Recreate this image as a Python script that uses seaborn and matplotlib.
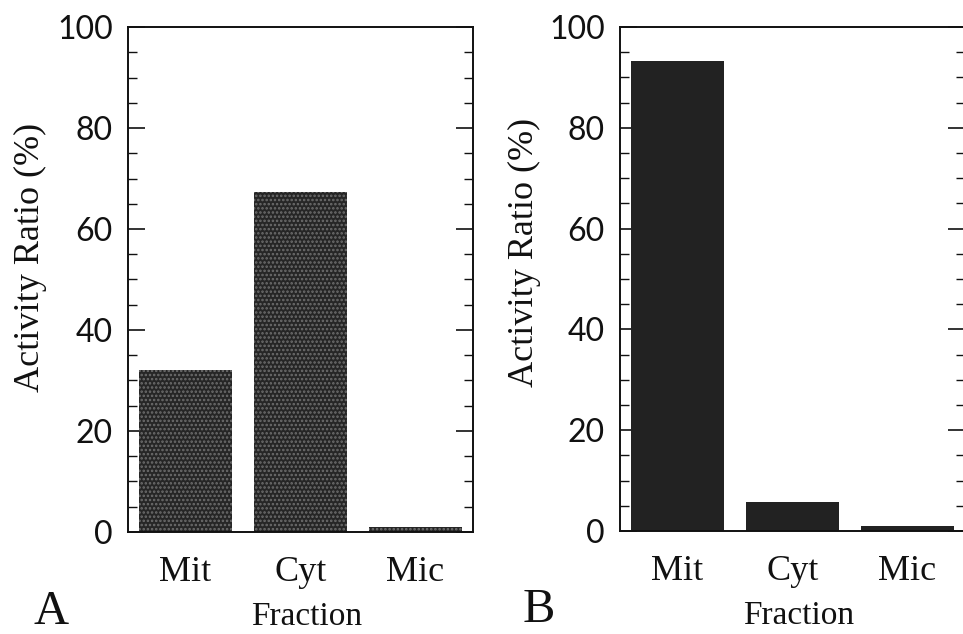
import matplotlib
matplotlib.use("Agg")
import matplotlib.pyplot as plt
import seaborn as sns
from matplotlib.ticker import MultipleLocator

# data
fractions = ["Mit", "Cyt", "Mic"]
ratio_a = [32.1, 67.4, 1.0]
ratio_b = [93.2, 5.8, 1.0]
panel_labels = ["A", "B"]

sns.set_theme(style="white")
plt.rcParams["font.family"] = ["Liberation Serif", "DejaVu Serif"]
plt.rcParams["hatch.linewidth"] = 1.2

fig = plt.figure(figsize=(9.63, 6.34), dpi=100)
ax_a = fig.add_axes([0.1329, 0.1609, 0.3583, 0.7965])
ax_b = fig.add_axes([0.6438, 0.1625, 0.3583, 0.7949])


def draw_panel(ax, values, face, hatch=None):
    sns.barplot(x=fractions, y=values, color=face, width=0.81,
                saturation=1, ax=ax)
    for p in ax.patches:
        p.set_linewidth(0)
        if hatch:
            p.set_hatch(hatch)
            p.set_edgecolor("#6e6e6e")
    ax.set_xlim(-0.5, 2.5)
    ax.set_ylim(0, 100)
    ax.yaxis.set_major_locator(MultipleLocator(20))
    ax.yaxis.set_minor_locator(MultipleLocator(5))
    ax.tick_params(axis="y", which="both", direction="in", left=True, right=True,
                   color="#111111")
    ax.tick_params(axis="y", which="major", length=12, width=1.2, pad=11)
    ax.tick_params(axis="y", which="minor", length=6.5, width=1.0)
    ax.tick_params(axis="x", length=0, pad=17, labelsize=26, labelcolor="#111111")
    for lab in ax.get_yticklabels():
        lab.set_fontfamily("Lato")
        lab.set_fontsize(23)
        lab.set_color("#111111")
    for s in ax.spines.values():
        s.set_visible(True)
        s.set_linewidth(1.4)
        s.set_color("#111111")
    ax.set_ylabel("Activity Ratio (%)", fontsize=26, color="#111111")
    ax.set_xlabel("Fraction", fontsize=24, color="#111111")
    ax.xaxis.set_label_coords(0.519, -0.138)


draw_panel(ax_a, ratio_a, "#262626", hatch="....")
draw_panel(ax_b, ratio_b, "#222222")
ax_a.yaxis.set_label_coords(-0.235, 0.543)
ax_b.yaxis.set_label_coords(-0.23, 0.552)

fig.text(33 / 963, 1 - 624 / 634, panel_labels[0], fontsize=35,
         va="baseline", color="#111111")
fig.text(523 / 963, 1 - 622 / 634, panel_labels[1], fontsize=35,
         va="baseline", color="#111111")

fig.savefig("out.png", dpi=100)
